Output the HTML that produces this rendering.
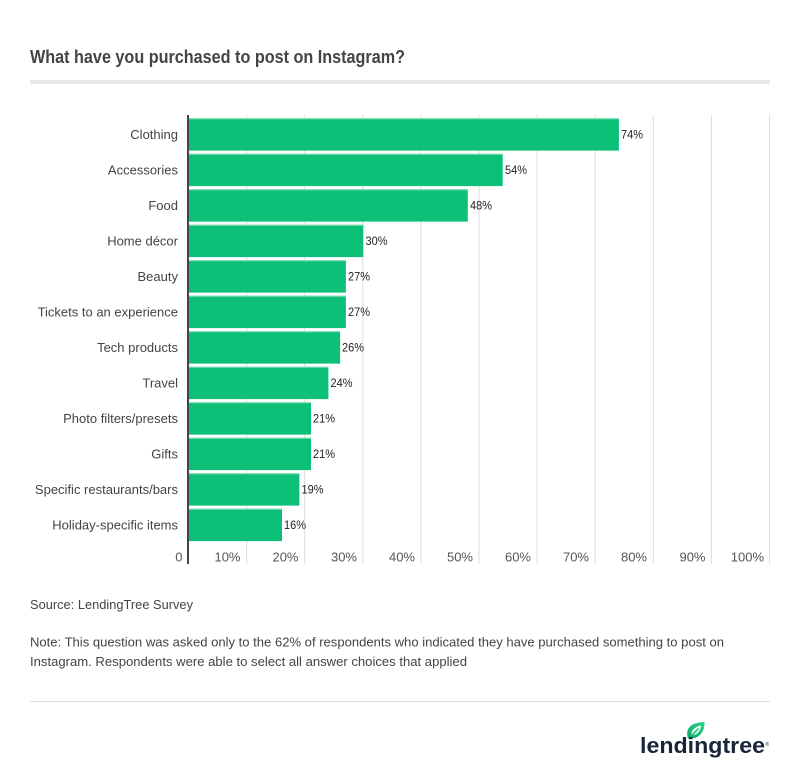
<!DOCTYPE html>
<html>
<head>
<meta charset="utf-8">
<style>
  html, body { margin: 0; padding: 0; background: #ffffff; }
  svg { display: block; }
  text { font-family: "Liberation Sans", "DejaVu Sans", sans-serif; }
</style>
</head>
<body>
<svg width="800" height="783" viewBox="0 0 800 783" xmlns="http://www.w3.org/2000/svg">
  <defs>
    <linearGradient id="leaf" x1="0" y1="1" x2="1" y2="0">
      <stop offset="0" stop-color="#0aa866"/>
      <stop offset="1" stop-color="#2fd487"/>
    </linearGradient>
  </defs>
  <rect width="800" height="783" fill="#ffffff"/>

  <!-- Title -->
  <text x="30" y="63" font-size="18" font-weight="bold" fill="#444444" textLength="375" lengthAdjust="spacingAndGlyphs">What have you purchased to post on Instagram?</text>
  <rect x="30" y="80" width="740" height="4" fill="#e8e8e8"/>

  <!-- Gridlines -->
  <g stroke="#dddddd" stroke-width="1">
    <line x1="246.6" y1="115" x2="246.6" y2="564"/>
    <line x1="304.7" y1="115" x2="304.7" y2="564"/>
    <line x1="362.8" y1="115" x2="362.8" y2="564"/>
    <line x1="420.9" y1="115" x2="420.9" y2="564"/>
    <line x1="479" y1="115" x2="479" y2="564"/>
    <line x1="537.1" y1="115" x2="537.1" y2="564"/>
    <line x1="595.2" y1="115" x2="595.2" y2="564"/>
    <line x1="653.3" y1="115" x2="653.3" y2="564"/>
    <line x1="711.4" y1="115" x2="711.4" y2="564"/>
    <line x1="769.5" y1="115" x2="769.5" y2="564"/>
  </g>

  <!-- Bars -->
  <g fill="#0cc177">
    <rect x="189" y="118.3" width="429.9" height="32.3"/>
    <rect x="189" y="153.8" width="313.7" height="32.3"/>
    <rect x="189" y="189.3" width="278.8" height="32.3"/>
    <rect x="189" y="224.8" width="174.3" height="32.3"/>
    <rect x="189" y="260.3" width="156.9" height="32.3"/>
    <rect x="189" y="295.8" width="156.9" height="32.3"/>
    <rect x="189" y="331.3" width="151.1" height="32.3"/>
    <rect x="189" y="366.8" width="139.4" height="32.3"/>
    <rect x="189" y="402.3" width="122" height="32.3"/>
    <rect x="189" y="437.8" width="122" height="32.3"/>
    <rect x="189" y="473.3" width="110.4" height="32.3"/>
    <rect x="189" y="508.8" width="93" height="32.3"/>
  </g>
  <g fill="#7fdcb1">
    <rect x="189" y="118.3" width="429.9" height="1"/>
    <rect x="189" y="153.8" width="313.7" height="1"/>
    <rect x="189" y="189.3" width="278.8" height="1"/>
    <rect x="189" y="224.8" width="174.3" height="1"/>
    <rect x="189" y="260.3" width="156.9" height="1"/>
    <rect x="189" y="295.8" width="156.9" height="1"/>
    <rect x="189" y="331.3" width="151.1" height="1"/>
    <rect x="189" y="366.8" width="139.4" height="1"/>
    <rect x="189" y="402.3" width="122" height="1"/>
    <rect x="189" y="437.8" width="122" height="1"/>
    <rect x="189" y="473.3" width="110.4" height="1"/>
    <rect x="189" y="508.8" width="93" height="1"/>
  </g>

  <!-- Axis -->
  <rect x="187" y="115" width="2" height="449" fill="#444444"/>

  <!-- Category labels -->
  <g font-size="13" fill="#444444" text-anchor="end">
    <text x="178" y="139">Clothing</text>
    <text x="178" y="174.5">Accessories</text>
    <text x="178" y="210">Food</text>
    <text x="178" y="245.5">Home décor</text>
    <text x="178" y="281">Beauty</text>
    <text x="178" y="316.5">Tickets to an experience</text>
    <text x="178" y="352">Tech products</text>
    <text x="178" y="387.5">Travel</text>
    <text x="178" y="423">Photo filters/presets</text>
    <text x="178" y="458.5">Gifts</text>
    <text x="178" y="494">Specific restaurants/bars</text>
    <text x="178" y="529.5">Holiday-specific items</text>
  </g>

  <!-- Value labels -->
  <g font-size="12" fill="#222222">
    <text x="621" y="138.5" textLength="22" lengthAdjust="spacingAndGlyphs">74%</text>
    <text x="505" y="174" textLength="22" lengthAdjust="spacingAndGlyphs">54%</text>
    <text x="470" y="209.5" textLength="22" lengthAdjust="spacingAndGlyphs">48%</text>
    <text x="365.5" y="245" textLength="22" lengthAdjust="spacingAndGlyphs">30%</text>
    <text x="348" y="280.5" textLength="22" lengthAdjust="spacingAndGlyphs">27%</text>
    <text x="348" y="316" textLength="22" lengthAdjust="spacingAndGlyphs">27%</text>
    <text x="342" y="351.5" textLength="22" lengthAdjust="spacingAndGlyphs">26%</text>
    <text x="330.5" y="387" textLength="22" lengthAdjust="spacingAndGlyphs">24%</text>
    <text x="313" y="422.5" textLength="22" lengthAdjust="spacingAndGlyphs">21%</text>
    <text x="313" y="458" textLength="22" lengthAdjust="spacingAndGlyphs">21%</text>
    <text x="301.5" y="493.5" textLength="22" lengthAdjust="spacingAndGlyphs">19%</text>
    <text x="284" y="529" textLength="22" lengthAdjust="spacingAndGlyphs">16%</text>
  </g>

  <!-- Tick labels -->
  <g font-size="13" fill="#555555" text-anchor="end">
    <text x="182.5" y="561.5">0</text>
    <text x="240.5" y="561.5">10%</text>
    <text x="298.5" y="561.5">20%</text>
    <text x="357" y="561.5">30%</text>
    <text x="415" y="561.5">40%</text>
    <text x="473" y="561.5">50%</text>
    <text x="531" y="561.5">60%</text>
    <text x="589" y="561.5">70%</text>
    <text x="647" y="561.5">80%</text>
    <text x="705.5" y="561.5">90%</text>
    <text x="764" y="561.5">100%</text>
  </g>

  <!-- Source & note -->
  <g font-size="12.5" fill="#444444">
    <text x="30" y="609" textLength="163" lengthAdjust="spacingAndGlyphs">Source: LendingTree Survey</text>
    <text x="30" y="646.5" textLength="694" lengthAdjust="spacingAndGlyphs">Note: This question was asked only to the 62% of respondents who indicated they have purchased something to post on</text>
    <text x="30" y="666" textLength="437" lengthAdjust="spacingAndGlyphs">Instagram. Respondents were able to select all answer choices that applied</text>
  </g>

  <rect x="30" y="701" width="740" height="1" fill="#dddddd"/>

  <!-- Logo -->
  <path d="M688,738.5 C685,729 690,722.5 704.5,722 C705,733 698,739.5 688,738.5 Z" fill="url(#leaf)"/>
  <path d="M691,735.5 C691.5,730 694.5,727 701,725.5 C700.5,731.5 697,735 691,735.5 Z" fill="#ffffff"/>
  <path d="M689.5,737.5 L698,729" stroke="url(#leaf)" stroke-width="1.8" stroke-linecap="round"/>
  <text x="640" y="753" font-size="22" font-weight="bold" fill="#19253a" textLength="125" lengthAdjust="spacingAndGlyphs">lendingtree</text>
  <text x="765.5" y="746" font-size="5" fill="#19253a">®</text>
</svg>
</body>
</html>
